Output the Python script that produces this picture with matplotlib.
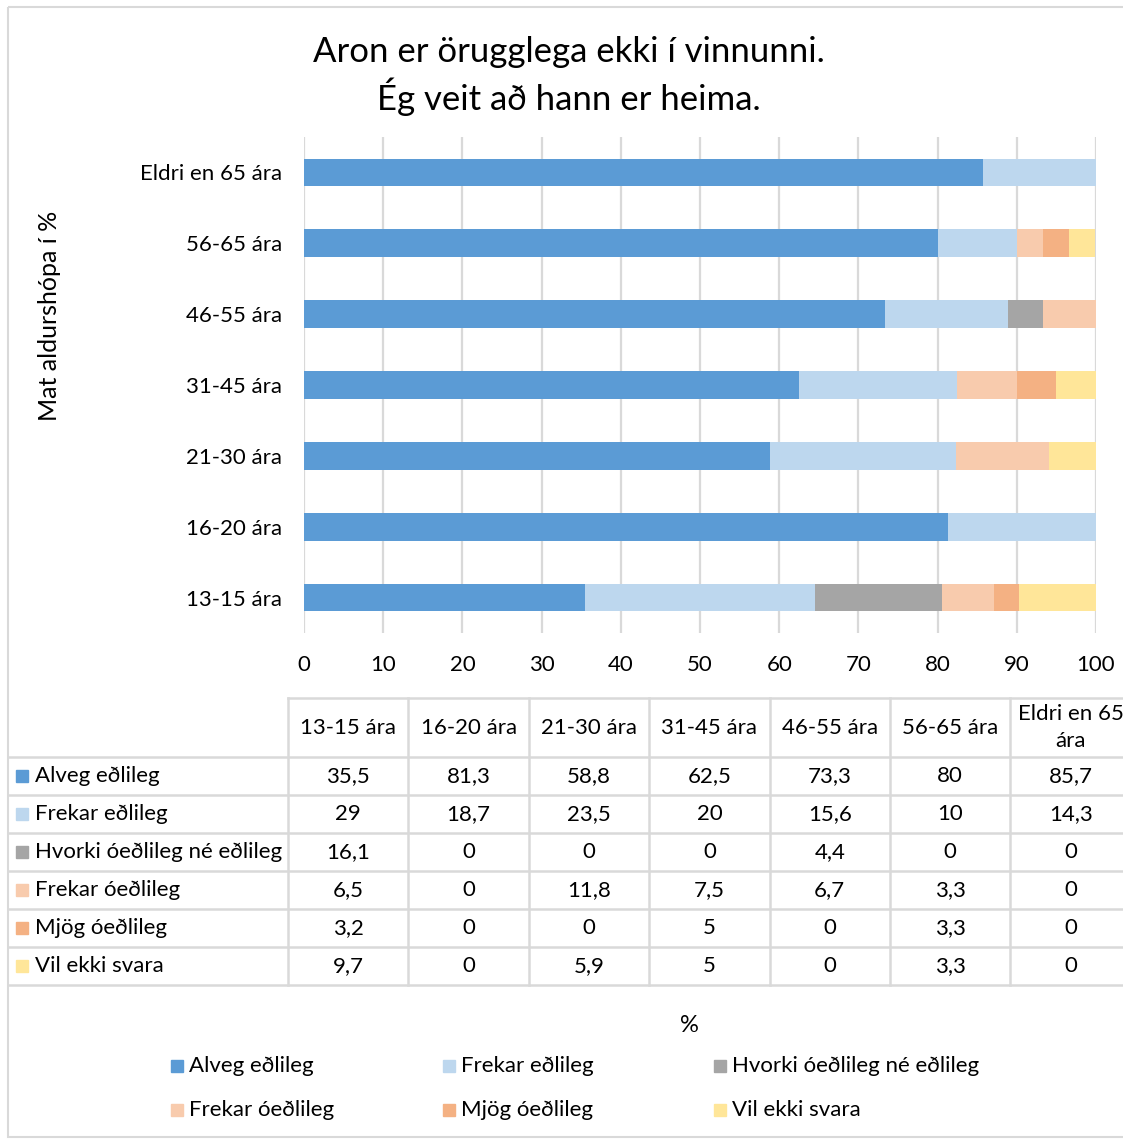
import matplotlib.pyplot as plt
import numpy as np
from matplotlib.patches import Rectangle

plt.rcParams['font.family'] = ['Lato', 'DejaVu Sans']

groups = ["13-15 ára", "16-20 ára", "21-30 ára", "31-45 ára", "46-55 ára", "56-65 ára", "Eldri en 65 ára"]
answers = ["Alveg eðlileg", "Frekar eðlileg", "Hvorki óeðlileg né eðlileg",
           "Frekar óeðlileg", "Mjög óeðlileg", "Vil ekki svara"]

alveg = [35.5, 81.3, 58.8, 62.5, 73.3, 80, 85.7]
frekar = [29, 18.7, 23.5, 20, 15.6, 10, 14.3]
hvorki = [16.1, 0, 0, 0, 4.4, 0, 0]
frekar_o = [6.5, 0, 11.8, 7.5, 6.7, 3.3, 0]
mjog_o = [3.2, 0, 0, 5, 0, 3.3, 0]
vil_ekki = [9.7, 0, 5.9, 5, 0, 3.3, 0]
series = [alveg, frekar, hvorki, frekar_o, mjog_o, vil_ekki]

colors = ["#5B9BD5", "#BDD7EE", "#A5A5A5", "#F8CBAD", "#F4B183", "#FFE699"]
grid_c = "#D9D9D9"
fs = 16

W, H = 1123, 1140
fig = plt.figure(figsize=(W / 100, H / 100), dpi=100)

# overlay in pixel coordinates for frame, table and legend
ov = fig.add_axes([0, 0, 1, 1], zorder=0)
ov.set_xlim(0, W)
ov.set_ylim(H, 0)
ov.axis("off")


def px(x0, y0, x1, y1):
    return [x0 / W, 1 - y1 / H, (x1 - x0) / W, (y1 - y0) / H]


ax = fig.add_axes(px(304, 137, 1096, 633), zorder=2)
ax.patch.set_alpha(0)

ypos = np.arange(len(groups))
left = np.zeros(len(groups))
for vals, col, name in zip(series, colors, answers):
    ax.barh(ypos, vals, left=left, height=0.39, color=col, label=name, zorder=3)
    left += np.array(vals)

ax.set_xlim(0, 100)
ax.set_ylim(-0.5, len(groups) - 0.5)
ax.set_xticks(np.arange(0, 101, 10))
ax.set_yticks(ypos)
ax.set_yticklabels(groups)
ax.grid(axis="x", color=grid_c, linewidth=1.6, zorder=0)
ax.tick_params(length=0, labelsize=fs, colors="#000000")
ax.tick_params(axis="y", pad=16)
ax.tick_params(axis="x", pad=16)
for s in ax.spines.values():
    s.set_visible(False)

fig.text(50 / W, 1 - 316 / H, "Mat aldurshópa í %", rotation=90, fontsize=18,
         ha="center", va="center")
fig.text(569 / W, 1 - 76 / H, "Aron er örugglega ekki í vinnunni.\nÉg veit að hann er heima.",
         fontsize=25, ha="center", va="center", linespacing=1.3)

# outer chart frame
ov.add_patch(Rectangle((8, 7), 1130, 1130, fill=False, edgecolor=grid_c, linewidth=1.5))

# data table
col_x0 = 288
col_w = 120.4
head_top, head_bot = 698, 757
row_h = 38
n_rows = len(answers)
tab_bot = head_bot + n_rows * row_h
lc = "#D9D9D9"
lw = 1.8

ov.plot([col_x0, W + 10], [head_top, head_top], color=lc, lw=lw)
for r in range(n_rows + 1):
    y = head_bot + r * row_h
    ov.plot([8, W + 10], [y, y], color=lc, lw=lw)
for c in range(len(groups) + 1):
    x = col_x0 + c * col_w
    ov.plot([x, x], [head_top, tab_bot], color=lc, lw=lw)

for c, g in enumerate(groups):
    cx = col_x0 + (c + 0.5) * col_w
    label = g if len(g) < 12 else "Eldri en 65\nára"
    ov.text(cx, (head_top + head_bot) / 2, label, ha="center", va="center",
            fontsize=fs, linespacing=1.45)

for r, (name, vals, col) in enumerate(zip(answers, series, colors)):
    cy = head_bot + (r + 0.5) * row_h
    ov.add_patch(Rectangle((16, cy - 6), 12, 12, color=col))
    ov.text(35, cy, name, ha="left", va="center", fontsize=fs)
    for c, v in enumerate(vals):
        cx = col_x0 + (c + 0.5) * col_w
        ov.text(cx, cy, f"{v:g}".replace(".", ","), ha="center", va="center", fontsize=fs)

# x axis title and legend
ov.text(689, 1025, "%", ha="center", va="center", fontsize=17)
leg_x = [171, 443, 714]
leg_y = [1066, 1110]
for i, (name, col) in enumerate(zip(answers, colors)):
    lx = leg_x[i % 3]
    ly = leg_y[i // 3]
    ov.add_patch(Rectangle((lx, ly - 6), 12, 12, color=col))
    ov.text(lx + 18, ly, name, ha="left", va="center", fontsize=fs)

fig.savefig("out.png", dpi=100)
